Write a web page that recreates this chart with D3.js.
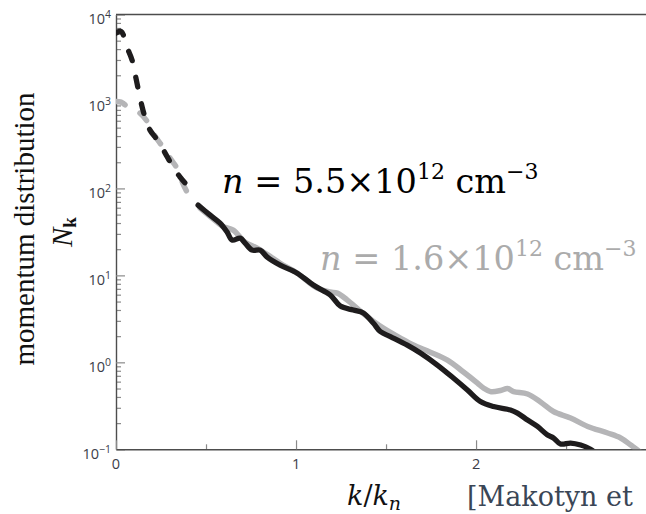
<!DOCTYPE html>
<html>
<head>
<meta charset="utf-8">
<script src="https://cdn.jsdelivr.net/npm/d3@7"></script>
<style>
  html, body { margin: 0; padding: 0; background: #fff; }
  svg { display: block; }
  text { white-space: pre; }
</style>
</head>
<body>
<svg id="chart" width="646" height="514"></svg>
<script>
// ---- data ----
const kBlack = [0.000, 0.028, 0.061, 0.089, 0.111, 0.139, 0.161, 0.189, 0.234, 0.273, 0.311, 0.356, 0.395,
  0.456, 0.523, 0.578, 0.617, 0.645, 0.690, 0.717, 0.756, 0.801, 0.840, 0.912, 1.007, 1.096, 1.190, 1.246,
  1.318, 1.374, 1.429, 1.468, 1.524, 1.618, 1.691, 1.785, 1.874, 1.952, 2.024, 2.097, 2.191, 2.230, 2.286,
  2.341, 2.397, 2.430, 2.469, 2.525, 2.581, 2.636, 2.660];
const nBlack = [6100, 6400, 4200, 3000, 1850, 980, 661, 468, 350, 255, 185, 135, 109,
  64.3, 49.3, 39.9, 31.5, 25.5, 26.8, 23.5, 19.5, 19.5, 16.2, 13.1, 10.6, 7.74, 5.94, 4.44,
  3.99, 3.69, 2.83, 2.26, 1.98, 1.58, 1.28, 0.931, 0.661, 0.481, 0.354, 0.310, 0.283, 0.261, 0.217,
  0.183, 0.146, 0.135, 0.115, 0.118, 0.112, 0.100, 0.092];
const kGray = [0.000, 0.028, 0.061, 0.133, 0.172, 0.217, 0.261, 0.300, 0.339, 0.373, 0.412,
  0.467, 0.534, 0.590, 0.651, 0.717, 0.784, 0.845, 0.912, 1.007, 1.118, 1.190, 1.229, 1.285, 1.357,
  1.429, 1.485, 1.580, 1.652, 1.746, 1.841, 1.930, 2.008, 2.041, 2.080, 2.136, 2.175, 2.208, 2.286,
  2.358, 2.430, 2.525, 2.620, 2.731, 2.803, 2.859, 2.898, 2.925];
const nGray = [1000, 982, 883, 734, 594, 399, 298, 223, 171, 112, 77.4,
  59.4, 45.6, 36.9, 33.2, 24.1, 20.6, 17.1, 13.8, 10.6, 7.14, 6.43, 6.26, 5.20, 3.89,
  2.98, 2.48, 1.90, 1.58, 1.31, 1.06, 0.775, 0.578, 0.507, 0.461, 0.474, 0.500, 0.461, 0.433,
  0.350, 0.272, 0.229, 0.183, 0.154, 0.135, 0.112, 0.098, 0.088];
// dashed (extrapolated) part ends / solid part starts at these k values
const blackDashEnd = 0.395, blackSolidStart = 0.456;
const grayDashEnd = 0.412, graySolidStart = 0.467;

const xMajor = [0, 1, 2];
const xMinor = [0.5, 1.5, 2.5];
const yExponents = [-1, 0, 1, 2, 3, 4];
const densities = ["5.5", "1.6"];

// ---- layout ----
const svg = d3.select("#chart");
const L = 116, R = 646, T = 14.5, B = 449.3;
const x = d3.scaleLinear().domain([0, 2.944]).range([L, R]);
const y = d3.scaleLog().domain([0.1, 1e4]).range([B, T]);

const yMajor = yExponents.map(e => Math.pow(10, e));
const yMinor = [];
for (let e = -1; e < 4; e++) for (let m = 2; m <= 9; m++) yMinor.push(m * Math.pow(10, e));

svg.append("clipPath").attr("id", "plotclip")
  .append("rect").attr("x", L).attr("y", T).attr("width", R - L).attr("height", B - T);

// ---- axes ----
const tickCol = "#8a8a8a", axisCol = "#4d4d4d";
function styleAxis(g, showDomain) {
  g.selectAll(".tick line").attr("stroke", tickCol).attr("stroke-width", 1.2);
  g.selectAll(".tick text").remove();
  g.select(".domain").attr("stroke", showDomain ? axisCol : "none").attr("stroke-width", 1.4);
}
svg.append("g").attr("transform", `translate(${L},0)`)
  .call(d3.axisRight(y).tickValues(yMinor).tickSize(5).tickSizeOuter(0).tickFormat(""))
  .call(g => styleAxis(g, false));
svg.append("g").attr("transform", `translate(${L},0)`)
  .call(d3.axisRight(y).tickValues(yMajor).tickSize(9).tickSizeOuter(0).tickFormat(""))
  .call(g => styleAxis(g, true));
svg.append("g").attr("transform", `translate(0,${B})`)
  .call(d3.axisTop(x).tickValues(xMinor).tickSize(5).tickSizeOuter(0).tickFormat(""))
  .call(g => styleAxis(g, false));
svg.append("g").attr("transform", `translate(0,${B})`)
  .call(d3.axisTop(x).tickValues(xMajor).tickSize(9).tickSizeOuter(0).tickFormat(""))
  .call(g => styleAxis(g, true));
// top frame line
svg.append("line").attr("x1", L).attr("x2", R).attr("y1", T).attr("y2", T)
  .attr("stroke", axisCol).attr("stroke-width", 1.4);

// tick labels
const labCol = "#3b3d48";
const labFont = "'Open Sans', sans-serif";
yExponents.forEach(e => {
  const t = svg.append("text")
    .attr("x", 111).attr("y", y(Math.pow(10, e)) + 9.5)
    .attr("text-anchor", "end").attr("font-family", labFont)
    .attr("font-size", 14.5).attr("fill", labCol);
  t.append("tspan").text("10");
  t.append("tspan").attr("font-size", 10.5).attr("dy", -6).text(e < 0 ? "\u2212" + (-e) : String(e));
});
xMajor.forEach(v => {
  svg.append("text").attr("x", x(v)).attr("y", 468.5)
    .attr("text-anchor", "middle").attr("font-family", labFont)
    .attr("font-size", 14.5).attr("fill", labCol).text(String(v));
});

// ---- curves ----
const line = d3.line().x(d => x(d[0])).y(d => y(d[1])).curve(d3.curveCatmullRom.alpha(0.5));
const zipped = (ks, ns) => ks.map((k, i) => [k, ns[i]]);
const black = zipped(kBlack, nBlack), gray = zipped(kGray, nGray);
const plot = svg.append("g").attr("clip-path", "url(#plotclip)");

function drawSeries(data, dashEnd, solidStart, color, width) {
  plot.append("path").datum(data.filter(d => d[0] <= dashEnd))
    .attr("d", line).attr("fill", "none").attr("stroke", color)
    .attr("stroke-width", width).attr("stroke-linecap", "round")
    .attr("stroke-dasharray", "10,17");
  plot.append("path").datum(data.filter(d => d[0] >= solidStart))
    .attr("d", line).attr("fill", "none").attr("stroke", color)
    .attr("stroke-width", width).attr("stroke-linecap", "round").attr("stroke-linejoin", "round");
}
drawSeries(gray, grayDashEnd, graySolidStart, "#b5b5b7", 5.5);
drawSeries(black, blackDashEnd, blackSolidStart, "#1e1c1d", 5.3);

// ---- annotations ----
function densityLabel(xp, yp, value, color) {
  const t = svg.append("text").attr("x", xp).attr("y", yp)
    .attr("font-family", "'DejaVu Serif', serif").attr("font-size", 33.5).attr("fill", color);
  t.append("tspan").attr("font-style", "italic").text("n");
  t.append("tspan").text(" = " + value + "\u00d710");
  t.append("tspan").attr("font-size", 22).attr("dy", -14).text("12");
  t.append("tspan").attr("dy", 14).text(" cm");
  t.append("tspan").attr("font-size", 22).attr("dy", -14).text("\u22123");
}
densityLabel(222, 193, densities[0], "#000000");
densityLabel(320, 270, densities[1], "#ababab");

// ---- axis titles ----
svg.append("text").attr("transform", "translate(34,229) rotate(-90)")
  .attr("text-anchor", "middle").attr("font-family", "'Liberation Serif', serif")
  .attr("font-size", 29).attr("fill", "#111").text("momentum distribution");
const nk = svg.append("text").attr("transform", "translate(72,232) rotate(-90)")
  .attr("text-anchor", "middle").attr("font-family", "'Liberation Serif', serif")
  .attr("font-size", 29).attr("fill", "#111");
nk.append("tspan").attr("font-style", "italic").text("N");
nk.append("tspan").attr("font-weight", "bold").attr("font-size", 19).attr("dy", 4).text("k");

const kx = svg.append("text").attr("x", 347).attr("y", 505)
  .attr("font-family", "'DejaVu Serif', serif").attr("font-size", 27).attr("fill", "#111");
kx.append("tspan").attr("font-style", "italic").text("k");
kx.append("tspan").text("/");
kx.append("tspan").attr("font-style", "italic").text("k");
kx.append("tspan").attr("font-style", "italic").attr("font-size", 19).attr("dy", 5).text("n");

svg.append("text").attr("x", 467).attr("y", 506)
  .attr("font-family", "'DejaVu Serif', serif").attr("font-size", 27)
  .attr("fill", "#3a4656").text("[Makotyn et");
</script>
</body>
</html>
